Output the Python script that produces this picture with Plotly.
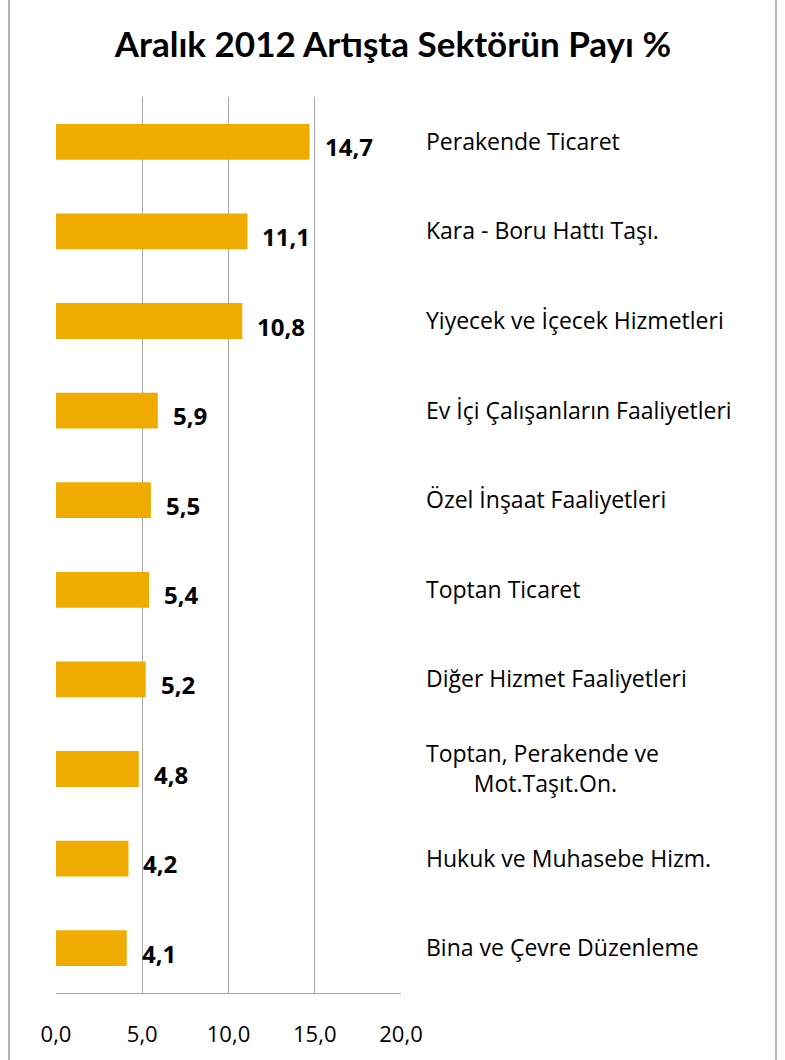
import plotly.graph_objects as go

categories = [
    "Perakende Ticaret",
    "Kara - Boru Hattı Taşı.",
    "Yiyecek ve İçecek Hizmetleri",
    "Ev İçi Çalışanların Faaliyetleri",
    "Özel İnşaat Faaliyetleri",
    "Toptan Ticaret",
    "Diğer Hizmet Faaliyetleri",
    "Toptan, Perakende ve<br>\u00a0\u00a0\u00a0\u00a0\u00a0\u00a0\u00a0\u00a0Mot.Taşıt.On.",
    "Hukuk ve Muhasebe Hizm.",
    "Bina ve Çevre Düzenleme",
]
values = [14.7, 11.1, 10.8, 5.9, 5.5, 5.4, 5.2, 4.8, 4.2, 4.1]
x_ticks = [0, 5, 10, 15, 20]
x_tick_labels = ["0,0", "5,0", "10,0", "15,0", "20,0"]
title_text = "Aralık 2012 Artışta Sektörün Payı %"

FONT = "Open Sans"
TFONT = "Lato"
BAR = "#F0AB00"
GRID = "#A6A6A6"

W, H = 785, 1060
PL, PR, PT, PB = 56, 401, 97, 995
PW = PR - PL

fig = go.Figure()
fig.add_trace(go.Bar(
    x=values, y=categories, orientation="h",
    marker=dict(color=BAR, line=dict(width=0)),
    width=0.4, hoverinfo="skip",
))

for v, c in zip(values, categories):
    fig.add_annotation(
        x=v, y=c, xref="x", yref="y",
        text="<b>" + f"{v:.1f}".replace(".", ",") + "</b>",
        showarrow=False, xanchor="left", yanchor="middle",
        xshift=13, yshift=-5,
        font=dict(family=FONT, size=24, color="#000000"),
    )

fig.update_layout(
    width=W, height=H,
    margin=dict(l=PL, r=W - PR, t=PT, b=H - PB),
    paper_bgcolor="white", plot_bgcolor="white",
    showlegend=False,
    title=dict(text="<b>" + title_text + "</b>", x=393 / W, xanchor="center",
               xref="container", y=1 - 45 / H, yref="container", yanchor="middle",
               font=dict(family=TFONT, size=35, color="#000000")),
    font=dict(family=FONT, color="#000000"),
)

fig.update_xaxes(
    range=[0, 20], tickvals=x_ticks, ticktext=x_tick_labels,
    showgrid=True, gridcolor=GRID, gridwidth=1.3,
    zeroline=False, showline=True, linecolor=GRID, linewidth=1.3,
    ticks="", ticklabelstandoff=21,
    tickfont=dict(family=FONT, size=22, color="#000000"),
    fixedrange=True,
)
fig.update_yaxes(
    autorange="reversed", side="right", ticks="",
    showgrid=False, zeroline=False, showline=False,
    ticklabelstandoff=24,
    tickfont=dict(family=FONT, size=23, color="#000000"),
    fixedrange=True,
)

# outer chart frame (vertical sides)
for fx in (9, 776):
    fig.add_shape(type="line", xref="paper", yref="paper",
                  x0=(fx - PL) / PW, x1=(fx - PL) / PW, y0=-0.2, y1=1.2,
                  line=dict(color="#9A9A9A", width=1.5))

fig.write_html(
    "out.html",
    config={"displayModeBar": False, "staticPlot": True},
    post_script="document.body.style.margin='0';document.body.style.overflow='hidden';",
)
